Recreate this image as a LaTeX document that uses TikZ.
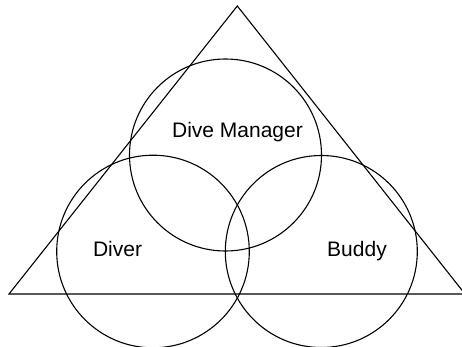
\documentclass[tikz,border=0pt]{standalone}
\usepackage{fontspec}
\setmainfont{Liberation Sans}
\begin{document}
\begin{tikzpicture}[x=1pt,y=-1pt,
  shape line/.style={draw=black,line width=1.1pt},
  lbl/.style={font=\fontsize{21}{25}\selectfont,inner sep=0pt,anchor=base}]
\useasboundingbox (0,0) rectangle (462,347);
\coordinate (apex) at (237.3,6);
\coordinate (bl) at (9,294);
\coordinate (br) at (465,294);
\begin{scope}
\clip (0,0) rectangle (462,347);
\draw[shape line,line join=miter] (apex) -- (br) -- (bl) -- cycle;
\draw[shape line] (225.5,155) circle (96);
\draw[shape line] (153,251.5) circle (96.3);
\draw[shape line] (321.3,251.5) circle (96);
\end{scope}
\node[lbl] (mgr) at (237.5,137.3) {Dive Manager};
\node[lbl] (diver) at (117.5,256.7) {Diver};
\node[lbl] (buddy) at (357,256.7) {Buddy};
\end{tikzpicture}
\end{document}
